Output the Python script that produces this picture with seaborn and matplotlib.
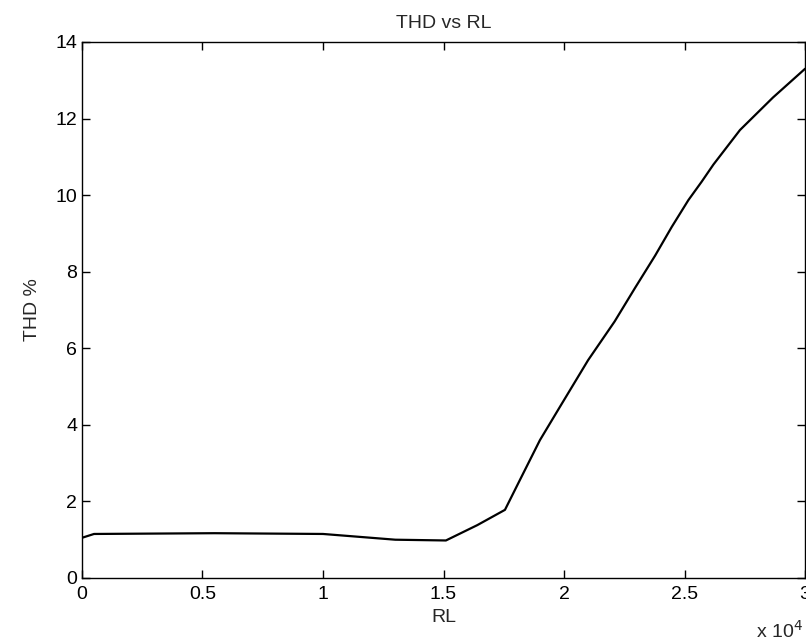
import matplotlib
matplotlib.use("Agg")
import matplotlib.pyplot as plt
from matplotlib.ticker import FuncFormatter, MultipleLocator
import seaborn as sns
import pandas as pd

# Data (RL in ohms, THD in %)
rl = [0, 500, 5500, 10000, 11000, 12000, 13000, 15100, 16400, 17550,
      18170, 19000, 19830, 21000, 22100, 22950, 23780, 24470, 25160,
      25710, 26200, 27300, 28670, 30000]
thd = [1.05, 1.15, 1.17, 1.15, 1.10, 1.05, 1.00, 0.98, 1.38, 1.78,
       2.56, 3.60, 4.47, 5.69, 6.70, 7.58, 8.42, 9.17, 9.87,
       10.35, 10.80, 11.70, 12.55, 13.30]
title = "THD vs RL"
xlabel = "RL"
ylabel = "THD %"

df = pd.DataFrame({"RL": rl, "THD": thd})

sns.set_style("ticks")
plt.rcParams["font.family"] = ["Liberation Sans", "DejaVu Sans"]
plt.rcParams["xtick.direction"] = "in"
plt.rcParams["ytick.direction"] = "in"

fig = plt.figure(figsize=(8.06, 6.43), dpi=100)
ax = fig.add_axes([0.1017, 0.1011, 0.8971, 0.8336])

sns.lineplot(data=df, x="RL", y="THD", color="black", linewidth=1.6,
             ax=ax, sort=False)

ax.set_xlim(0, 30000)
ax.set_ylim(0, 14)
ax.xaxis.set_major_locator(MultipleLocator(5000))
ax.yaxis.set_major_locator(MultipleLocator(2))
ax.xaxis.set_major_formatter(FuncFormatter(lambda v, p: f"{v/1e4:g}"))
ax.tick_params(axis="both", which="both", direction="in", top=True,
               right=True, length=6, width=1, labelsize=14, colors="black")
ax.tick_params(axis="x", pad=6)
for s in ax.spines.values():
    s.set_visible(True)
    s.set_linewidth(1.0)
    s.set_color("black")

ax.set_title(title, fontsize=14, pad=10)
ax.set_xlabel(xlabel, fontsize=14, labelpad=4)
ax.set_ylabel(ylabel, fontsize=14, labelpad=10)
fig.text(803 / 806, 1 - 631 / 643, "x 10$^4$", ha="right", va="center",
         fontsize=14)

fig.savefig("out.png", dpi=100)
